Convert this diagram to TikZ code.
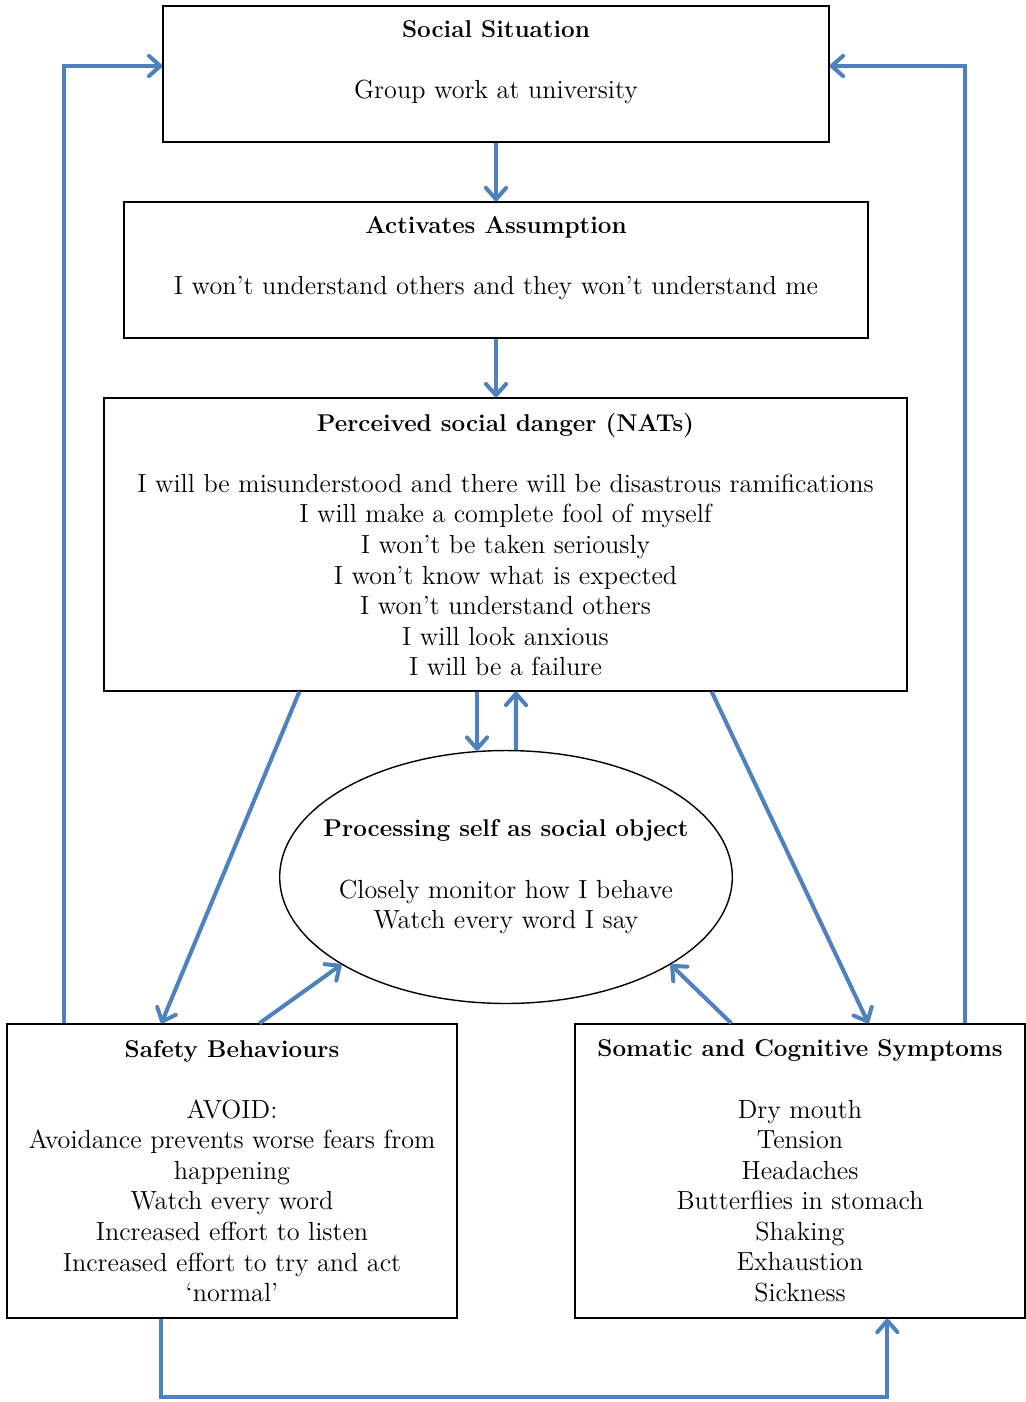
\documentclass[tikz,border=0pt]{standalone}
\usepackage{tikz}
\usetikzlibrary{shapes.geometric, positioning, calc, arrows.meta}

\definecolor{flowblue}{RGB}{79,129,189}
\newcommand{\boxtitle}[1]{{\fontsize{13.8pt}{17.4pt}\selectfont\textbf{#1}}}

\begin{document}
\begin{tikzpicture}[x=0.02cm, y=-0.02cm,
    every node/.style={font=\fontsize{14.9pt}{17.4pt}\selectfont},
    box/.style={rectangle, draw, line width=0.8pt, align=center},
    arr/.style={-{Straight Barb[length=6.5pt, width=11.5pt, round]}, draw=flowblue, line width=2.3pt}]
    \useasboundingbox (0,0) rectangle (1026,1402);

    \node[box, minimum width=13.32cm, minimum height=2.72cm] (sit) at (496,74) {};
    \node[anchor=north, align=center, inner sep=0pt] (sittext) at ($(sit.north)+(0,15)$) {\boxtitle{Social Situation}\\[17.4pt]Group work at university};
    \node[box, minimum width=14.88cm, minimum height=2.72cm] (act) at (496,270) {};
    \node[anchor=north, align=center, inner sep=0pt] (acttext) at ($(act.north)+(0,15)$) {\boxtitle{Activates Assumption}\\[17.4pt]I won't understand others and they won't understand me};
    \node[box, minimum width=16.06cm, minimum height=5.86cm] (nats) at (505.5,544.5) {\boxtitle{Perceived social danger (NATs)}\\[17.4pt]I will be misunderstood and there will be disastrous ramifications\\I will make a complete fool of myself\\I won't be taken seriously\\I won't know what is expected\\I won't understand others\\I will look anxious\\I will be a failure};
    \node[ellipse, draw, line width=0.8pt, align=center, inner xsep=-0.45cm, minimum width=9cm, minimum height=5.06cm] (proc) at (506,877) {\boxtitle{Processing self as social object}\\[17.4pt]Closely monitor how I behave\\Watch every word I say};
    \node[box, minimum width=9cm, minimum height=5.88cm] (safety) at (232,1171) {\boxtitle{Safety Behaviours}\\[17.4pt]AVOID:\\Avoidance prevents worse fears from\\happening\\Watch every word\\Increased effort to listen\\Increased effort to try and act\\`normal'};
    \node[box, minimum width=9cm, minimum height=5.88cm] (som) at (800,1171) {\boxtitle{Somatic and Cognitive Symptoms}\\[17.4pt]Dry mouth\\Tension\\Headaches\\Butterflies in stomach\\Shaking\\Exhaustion\\Sickness};

    \draw[arr] (sit.south) -- (act.north);
    \draw[arr] (act.south) -- (act.south |- nats.north);
    \draw[arr] ($(nats.south)+(-28.5,0)$) -- ($(proc.north)+(-29,1)$);
    \draw[arr] ($(proc.north)+(10,0)$) -- ($(nats.south)+(10.5,0)$);
    \draw[arr] ($(nats.south west)+(196,0)$) -- ($(safety.north west)+(155,0)$);
    \draw[arr] ($(nats.south east)+(-196,0)$) -- ($(som.north west)+(294,0)$);
    \draw[arr] ($(safety.north west)+(253,0)$) -- (proc.208);
    \draw[arr] ($(som.north west)+(157,0)$) -- (proc.332);
    \draw[arr] ($(safety.north west)+(58,0)$) |- ($(sit.west)+(0,-8)$);
    \draw[arr] ($(som.north west)+(391,0)$) |- ($(sit.east)+(0,-8)$);
    \draw[arr] ($(safety.south west)+(155,0)$) -- ++(0,78) -| ($(som.south west)+(313,0)$);
\end{tikzpicture}
\end{document}
